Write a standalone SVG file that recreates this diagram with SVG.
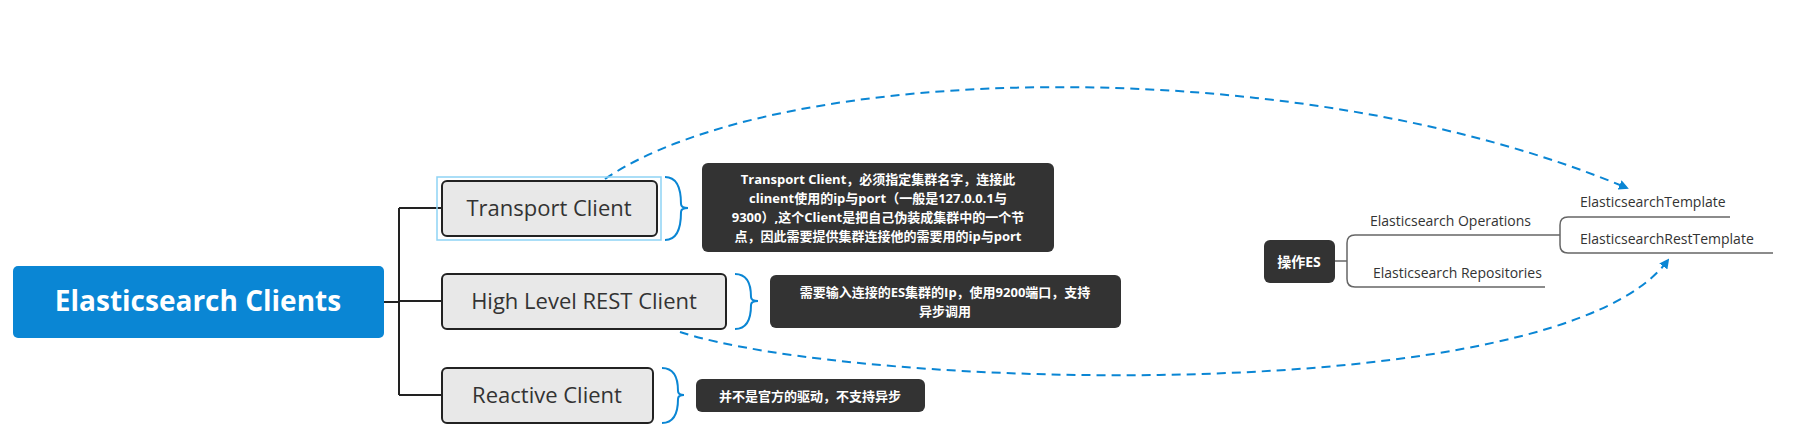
<svg xmlns="http://www.w3.org/2000/svg" width="1803" height="443" viewBox="0 0 1803 443">
<style>
.t{font-family:"Open Sans","Noto Sans CJK SC",sans-serif}
.sub rect{fill:#e8e8e8;stroke:#222;stroke-width:2}
.sub text{font-size:22px;fill:#333;text-anchor:middle}
.note rect{fill:#333}
.note text{font-size:13px;font-weight:bold;fill:#fff;text-anchor:middle}
.ln{fill:none;stroke:#222;stroke-width:2}
.br{fill:none;stroke:#0a86d4;stroke-width:2}
.gl{fill:none;stroke:#666;stroke-width:1.5}
.lab{font-size:14px;fill:#333}
.dash{fill:none;stroke:#0a86d4;stroke-width:2;stroke-dasharray:9 6}
</style>
<defs><marker id="ah" viewBox="0 0 10 10" refX="8" refY="5" markerWidth="5" markerHeight="5" orient="auto"><path d="M0,0L10,5L0,10z" fill="#0a86d4"/></marker></defs>
<g id="connectors">
<path class="ln" d="M384,302H399M399,208V395M399,208H442M399,301H442M399,395H442"/>
<path class="br" d="M665,177Q681,177 681,204Q681,208 688,208Q681,208 681,212Q681,240 665,240"/>
<path class="br" d="M735,274Q751,274 751,297Q751,301 758,301Q751,301 751,305Q751,329 735,329"/>
<path class="br" d="M662,368Q678,368 678,391Q678,395 684,395Q678,395 678,399Q678,423 662,423"/>
<path class="gl" d="M1335,261H1347M1347,243Q1347,235 1355,235H1548M1347,243V279Q1347,287 1355,287H1545M1548,235H1560M1560,225Q1560,217 1568,217H1730M1560,225V245Q1560,253 1568,253H1773"/>
<path class="dash" marker-end="url(#ah)" d="M605,179C780,60 1300,50 1627,188"/>
<path class="dash" marker-end="url(#ah)" d="M680,332C860,390 1560,410 1668,260"/>
</g>
<g id="main"><rect x="13" y="266" width="371" height="72" rx="5" fill="#0a86d4"/><text class="t" x="198" y="311" font-size="28" font-weight="bold" fill="#fff" text-anchor="middle">Elasticsearch Clients</text></g>
<g id="transport" class="sub t"><rect x="437" y="177" width="224" height="63" style="fill:none;stroke:#8fd3f5;stroke-width:1.5"/><rect x="442" y="181" width="215" height="55" rx="5"/><text x="549" y="216">Transport Client</text></g>
<g id="rest" class="sub t"><rect x="442" y="274" width="284" height="55" rx="5"/><text x="584" y="309">High Level REST Client</text></g>
<g id="reactive" class="sub t"><rect x="442" y="368" width="211" height="55" rx="5"/><text x="547" y="403">Reactive Client</text></g>
<g id="note1" class="note t"><rect x="702" y="163" width="352" height="89" rx="6"/><text x="878" y="184">Transport Client，必须指定集群名字，连接此</text><text x="878" y="203">clinent使用的ip与port（一般是127.0.0.1与</text><text x="878" y="222">9300）,这个Client是把自己伪装成集群中的一个节</text><text x="878" y="241">点，因此需要提供集群连接他的需要用的ip与port</text></g>
<g id="note2" class="note t"><rect x="770" y="275" width="351" height="53" rx="6"/><text x="945" y="297">需要输入连接的ES集群的Ip，使用9200端口，支持</text><text x="945" y="316">异步调用</text></g>
<g id="note3" class="note t"><rect x="696" y="379" width="229" height="33" rx="6"/><text x="810" y="401">并不是官方的驱动，不支持异步</text></g>
<g id="es" class="t"><rect x="1264" y="240" width="71" height="43" rx="6" fill="#333"/><text x="1299" y="267" font-size="14" font-weight="bold" fill="#fff" text-anchor="middle">操作ES</text></g>
<g id="ops" class="t"><text class="lab" x="1370" y="226">Elasticsearch Operations</text></g>
<g id="repo" class="t"><text class="lab" x="1373" y="278">Elasticsearch Repositories</text></g>
<g id="tpl" class="t"><text class="lab" x="1580" y="207">ElasticsearchTemplate</text></g>
<g id="rtpl" class="t"><text class="lab" x="1580" y="244">ElasticsearchRestTemplate</text></g>
</svg>
